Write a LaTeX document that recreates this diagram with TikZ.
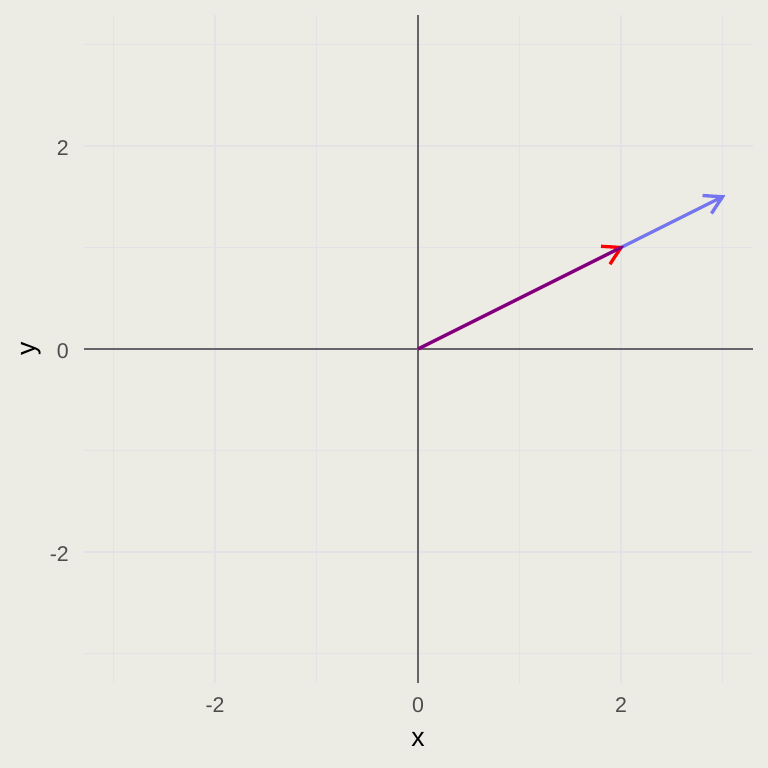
\documentclass[tikz,border=0pt]{standalone}
\usepackage{fontspec}
\setmainfont{Liberation Sans}
\usetikzlibrary{calc}
\definecolor{bgc}{RGB}{236,236,229}
\definecolor{gridc}{RGB}{226,226,231}
\definecolor{axc}{RGB}{102,102,106}
\definecolor{tickc}{RGB}{77,77,77}
\tikzset{
  majorgrid/.style={draw=gridc, line width=1.9pt},
  minorgrid/.style={draw=gridc, line width=1.2pt},
  zeroaxis/.style={draw=axc, line width=0.9pt},
  ticklab/.style={text=tickc, font=\fontsize{16}{19}\selectfont, inner sep=0pt},
  axtitle/.style={text=black, font=\fontsize{20}{24}\selectfont, inner sep=0pt},
  vecline/.style={line width=2.5pt, line cap=butt, line join=miter},
}
\begin{document}
\begin{tikzpicture}[x=76.125pt, y=76.125pt]
  \fill[bgc] (-4.1182,-4.1281) rectangle (3.4483,3.4384);
  \useasboundingbox (-4.1182,-4.1281) rectangle (3.4483,3.4384);
  % minor grid
  \foreach \v in {-3,-1,1,3} {
    \draw[minorgrid] (\v,-3.295) -- (\v,3.295);
    \draw[minorgrid] (-3.295,\v) -- (3.300,\v);
  }
  % major grid
  \foreach \v in {-2,0,2} {
    \draw[majorgrid] (\v,-3.295) -- (\v,3.295);
    \draw[majorgrid] (-3.295,\v) -- (3.300,\v);
  }
  % zero axes
  \coordinate (xl) at (-3.295,0);
  \coordinate (xr) at (3.300,0);
  \coordinate (yb) at (0,-3.295);
  \coordinate (yt) at (0,3.295);
  \draw[zeroaxis] (xl) -- (xr);
  \draw[zeroaxis] (yb) -- (yt);
  % tick labels
  \foreach \v in {-2,0,2} {
    \node[ticklab, anchor=base] (xt\v) at (\v,-3.586) {\v};
    \node[ticklab, anchor=base east] (yt\v) at (-3.438,\v-0.096) {\v};
  }
  % axis titles
  \node[axtitle, anchor=base] (xtitle) at (0,-3.918) {x};
  \node[axtitle, anchor=base, rotate=90] (ytitle) at (-3.773,0) {y};
  % vectors
  \coordinate (O) at (0,0);
  \coordinate (A) at (2,1);
  \coordinate (B) at (3,1.5);
  \draw[vecline, draw=red] (O) -- (A);
  \draw[vecline, draw=red] ($(A)+(176.57:0.197)$) -- (A) -- ($(A)+(236.57:0.197)$);
  \draw[vecline, draw=blue, draw opacity=0.5] (O) -- (B) ($(B)+(176.57:0.197)$) -- (B) -- ($(B)+(236.57:0.197)$);
\end{tikzpicture}
\end{document}
